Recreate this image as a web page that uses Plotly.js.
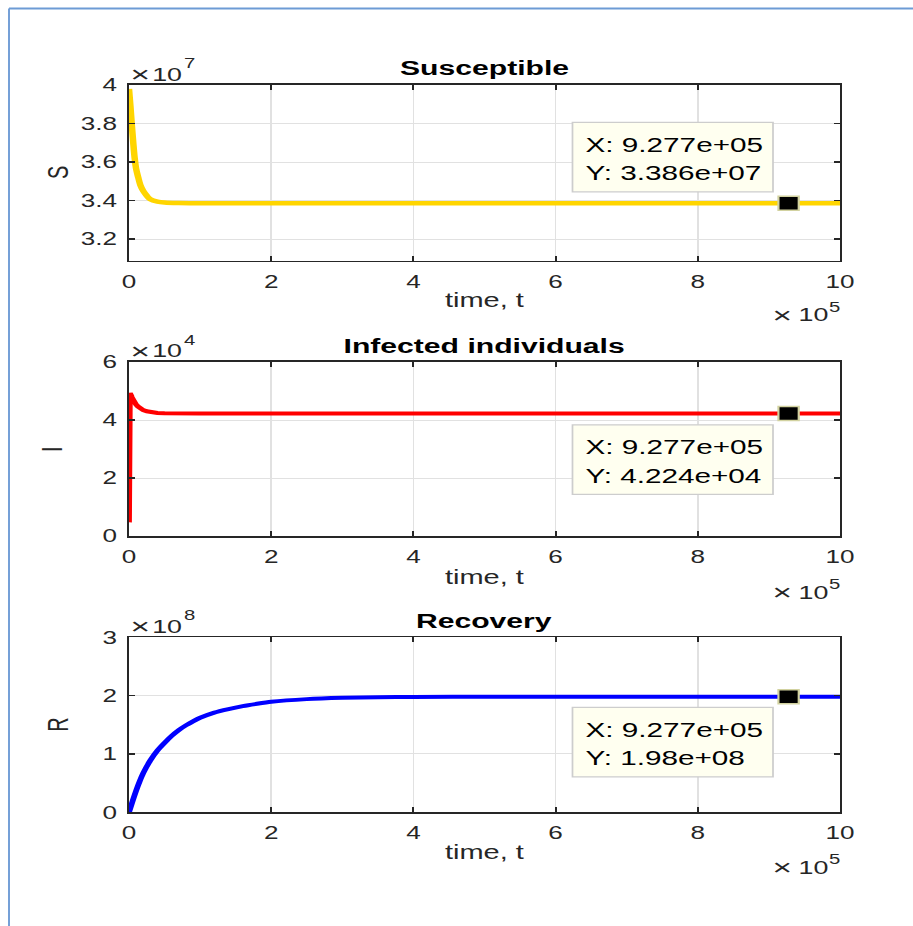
<!DOCTYPE html>
<html>
<head>
<meta charset="utf-8">
<script src="https://cdn.plot.ly/plotly-3.0.1.min.js"></script>
<style>
html,body{margin:0;padding:0;background:#fff;overflow:hidden;width:913px;height:926px;}
#wrap{width:913px;height:926px;overflow:hidden;}
#plot{width:630px;height:926px;transform:scaleX(1.449206);transform-origin:0 0;}
</style>
</head>
<body>
<div id="wrap"><div id="plot"></div></div>
<script>
// ---- data (time in raw units) ----
const tS = [0, 2000, 4000, 6000, 8000, 10000, 13000, 16000, 20000, 25000, 30000, 40000, 50000, 70000, 100000, 1000000];
const S  = [3.98e7, 3.89e7, 3.79e7, 3.70e7, 3.62e7, 3.565e7, 3.52e7, 3.48e7, 3.45e7, 3.425e7, 3.407e7, 3.395e7, 3.39e7, 3.387e7, 3.386e7, 3.386e7];

const tI = [0, 600, 1200, 2000, 3000, 4000, 6000, 8000, 10000, 12500, 15000, 20000, 25000, 30000, 40000, 50000, 70000, 100000, 1000000];
const I  = [0.47e4, 2.7e4, 4.93e4, 4.90e4, 4.84e4, 4.78e4, 4.67e4, 4.59e4, 4.53e4, 4.47e4, 4.42e4, 4.34e4, 4.30e4, 4.27e4, 4.24e4, 4.23e4, 4.225e4, 4.224e4, 4.224e4];

const tR = [0, 5000, 10000, 15000, 20000, 30000, 40000, 50000, 60000, 70000, 80000, 90000, 100000, 120000, 140000, 160000, 180000, 200000, 250000, 300000, 350000, 400000, 500000, 1000000];
const R  = [0, 0.19e8, 0.37e8, 0.53e8, 0.67e8, 0.89e8, 1.06e8, 1.19e8, 1.31e8, 1.41e8, 1.49e8, 1.56e8, 1.62e8, 1.71e8, 1.77e8, 1.82e8, 1.86e8, 1.895e8, 1.94e8, 1.962e8, 1.972e8, 1.977e8, 1.98e8, 1.98e8];

const tipX = 9.277e5;
const tipY = [3.386e7, 4.224e4, 1.98e8];
const tipLabelX = ["X: 9.277e+05", "X: 9.277e+05", "X: 9.277e+05"];
const tipLabelY = ["Y: 3.386e+07", "Y: 4.224e+04", "Y: 1.98e+08"];

const xTickVals = [0, 2e5, 4e5, 6e5, 8e5, 1e6];
const xTickText = ["0", "2", "4", "6", "8", "10"];
const sTickVals = [3.2e7, 3.4e7, 3.6e7, 3.8e7, 4.0e7];
const sTickText = ["3.2", "3.4", "3.6", "3.8", "4"];
const iTickVals = [0, 2e4, 4e4, 6e4];
const iTickText = ["0", "2", "4", "6"];
const rTickVals = [0, 1e8, 2e8, 3e8];
const rTickText = ["0", "1", "2", "3"];

const titles = ["Susceptible", "Infected individuals", "Recovery"];
const yLabels = ["S", "I", "R"];
const xLabel = "time, t";
const yExp = ["7", "4", "8"];
const xExp = "5";

// ---- layout helpers (pixel -> paper) ----
const PW = 913, PH = 926;
const px = v => v / PW;
const py = v => 1 - v / PH;
const FONT = "Liberation Sans, Arial, Helvetica, sans-serif";
const TXT = "#262626";

const xDom = [px(129), px(840)];
const tops = [85, 362, 637.3];
const bots = [260.7, 536, 812.3];

function xax(anchor) {
  return {
    domain: xDom, anchor: anchor, range: [0, 1e6],
    tickvals: xTickVals, ticktext: xTickText,
    ticks: "inside", ticklen: 5, tickwidth: 1.3, tickcolor: TXT,
    showline: true, linecolor: TXT, linewidth: 1.6, mirror: "ticks",
    showgrid: true, gridcolor: "#e1e1e1", gridwidth: 1,
    zeroline: false, tickfont: {family: FONT, size: 18, color: TXT},
    ticklabelstandoff: 4, fixedrange: true
  };
}
function yax(anchor, i, range, tv, tt) {
  return {
    domain: [py(bots[i]), py(tops[i])], anchor: anchor, range: range,
    tickvals: tv, ticktext: tt,
    ticks: "inside", ticklen: 4, tickwidth: 1.3, tickcolor: TXT,
    showline: true, linecolor: TXT, linewidth: 1.6, mirror: "ticks",
    showgrid: true, gridcolor: "#e1e1e1", gridwidth: 1,
    zeroline: false, tickfont: {family: FONT, size: 18, color: TXT},
    ticklabelstandoff: 3, fixedrange: true
  };
}

const traces = [
  {x: tS, y: S, xaxis: "x", yaxis: "y", mode: "lines", line: {color: "#FFD500", width: 4.5, shape: "spline"}},
  {x: tI, y: I, xaxis: "x2", yaxis: "y2", mode: "lines", line: {color: "#FF0000", width: 4}},
  {x: tR, y: R, xaxis: "x3", yaxis: "y3", mode: "lines", line: {color: "#0000FF", width: 4, shape: "spline", smoothing: 0.6}},
];
const axNames = [["x", "y"], ["x2", "y2"], ["x3", "y3"]];
for (let i = 0; i < 3; i++) {
  traces.push({
    x: [tipX], y: [tipY[i]], xaxis: axNames[i][0], yaxis: axNames[i][1], mode: "markers",
    marker: {symbol: "square", size: 14, color: "#000000", line: {color: "#d2d2a0", width: 1.5}}
  });
}

const annotations = [];
const shapes = [];
const tipBoxTop = [122.3, 424.8, 707.3];
function ann(x, y, text, size, opts) {
  return Object.assign({xref: "paper", yref: "paper", x: px(x), y: py(y), xanchor: "left", yanchor: "middle",
    text: text, showarrow: false, font: {family: FONT, size: size, color: TXT}}, opts || {});
}
for (let i = 0; i < 3; i++) {
  const off = tops[i] - tops[0];
  annotations.push(ann(484.5, 68 + off, "<b>" + titles[i] + "</b>", 20.8, {xanchor: "center", font: {family: FONT, size: 20.8, color: "#000"}}));
  // y exponent: ×10^n
  annotations.push(ann(139.5, 73.5 + off, "×", 23, {xanchor: "center"}));
  annotations.push(ann(149, 74 + off, "10", 18.5));
  annotations.push(ann(181.5, 63 + off, yExp[i], 14));
  // x exponent
  annotations.push(ann(782.5, 314.5 + off, "×", 23, {xanchor: "center"}));
  annotations.push(ann(796, 315 + off, "10", 18.5));
  annotations.push(ann(826, 306.5 + off, xExp, 14));
  // x label
  annotations.push(ann(484.5, 300 + off, xLabel, 20, {xanchor: "center"}));
  // y label
  const ylx = i === 1 ? 52 : 58;
  annotations.push(ann(ylx, (tops[i] + bots[i]) / 2, yLabels[i], 20, {xanchor: "center", textangle: -90}));
  // data tip box
  const bt = tipBoxTop[i];
  shapes.push({type: "rect", xref: "paper", yref: "paper", x0: px(572.5), x1: px(773), y0: py(bt), y1: py(bt + 69.5),
    fillcolor: "#FFFFF0", line: {color: "#CDCDCD", width: 1.2}, layer: "above"});
  annotations.push(ann(582, bt + 22, tipLabelX[i], 20.5, {font: {family: FONT, size: 20.5, color: "#000"}}));
  annotations.push(ann(582, bt + 50.5, tipLabelY[i], 20.5, {font: {family: FONT, size: 20.5, color: "#000"}}));
}
// outer blue frame (left & top edges)
shapes.push({type: "line", xref: "paper", yref: "paper", x0: px(9), x1: px(9), y0: py(926), y1: py(8.5), line: {color: "#6d9bd5", width: 1.3}});
shapes.push({type: "line", xref: "paper", yref: "paper", x0: px(9), x1: px(913), y0: py(8.5), y1: py(8.5), line: {color: "#6d9bd5", width: 2}});

const layout = {
  width: 630, height: 926,
  margin: {l: 0, r: 0, t: 0, b: 0, pad: 0},
  paper_bgcolor: "#ffffff", plot_bgcolor: "#ffffff",
  showlegend: false,
  xaxis: xax("y"), xaxis2: xax("y2"), xaxis3: xax("y3"),
  yaxis: yax("x", 0, [3.088e7, 4.0e7], sTickVals, sTickText),
  yaxis2: yax("x2", 1, [0, 6e4], iTickVals, iTickText),
  yaxis3: yax("x3", 2, [0, 3e8], rTickVals, rTickText),
  annotations: annotations, shapes: shapes
};

Plotly.newPlot("plot", traces, layout, {staticPlot: true, displayModeBar: false});
</script>
</body>
</html>
